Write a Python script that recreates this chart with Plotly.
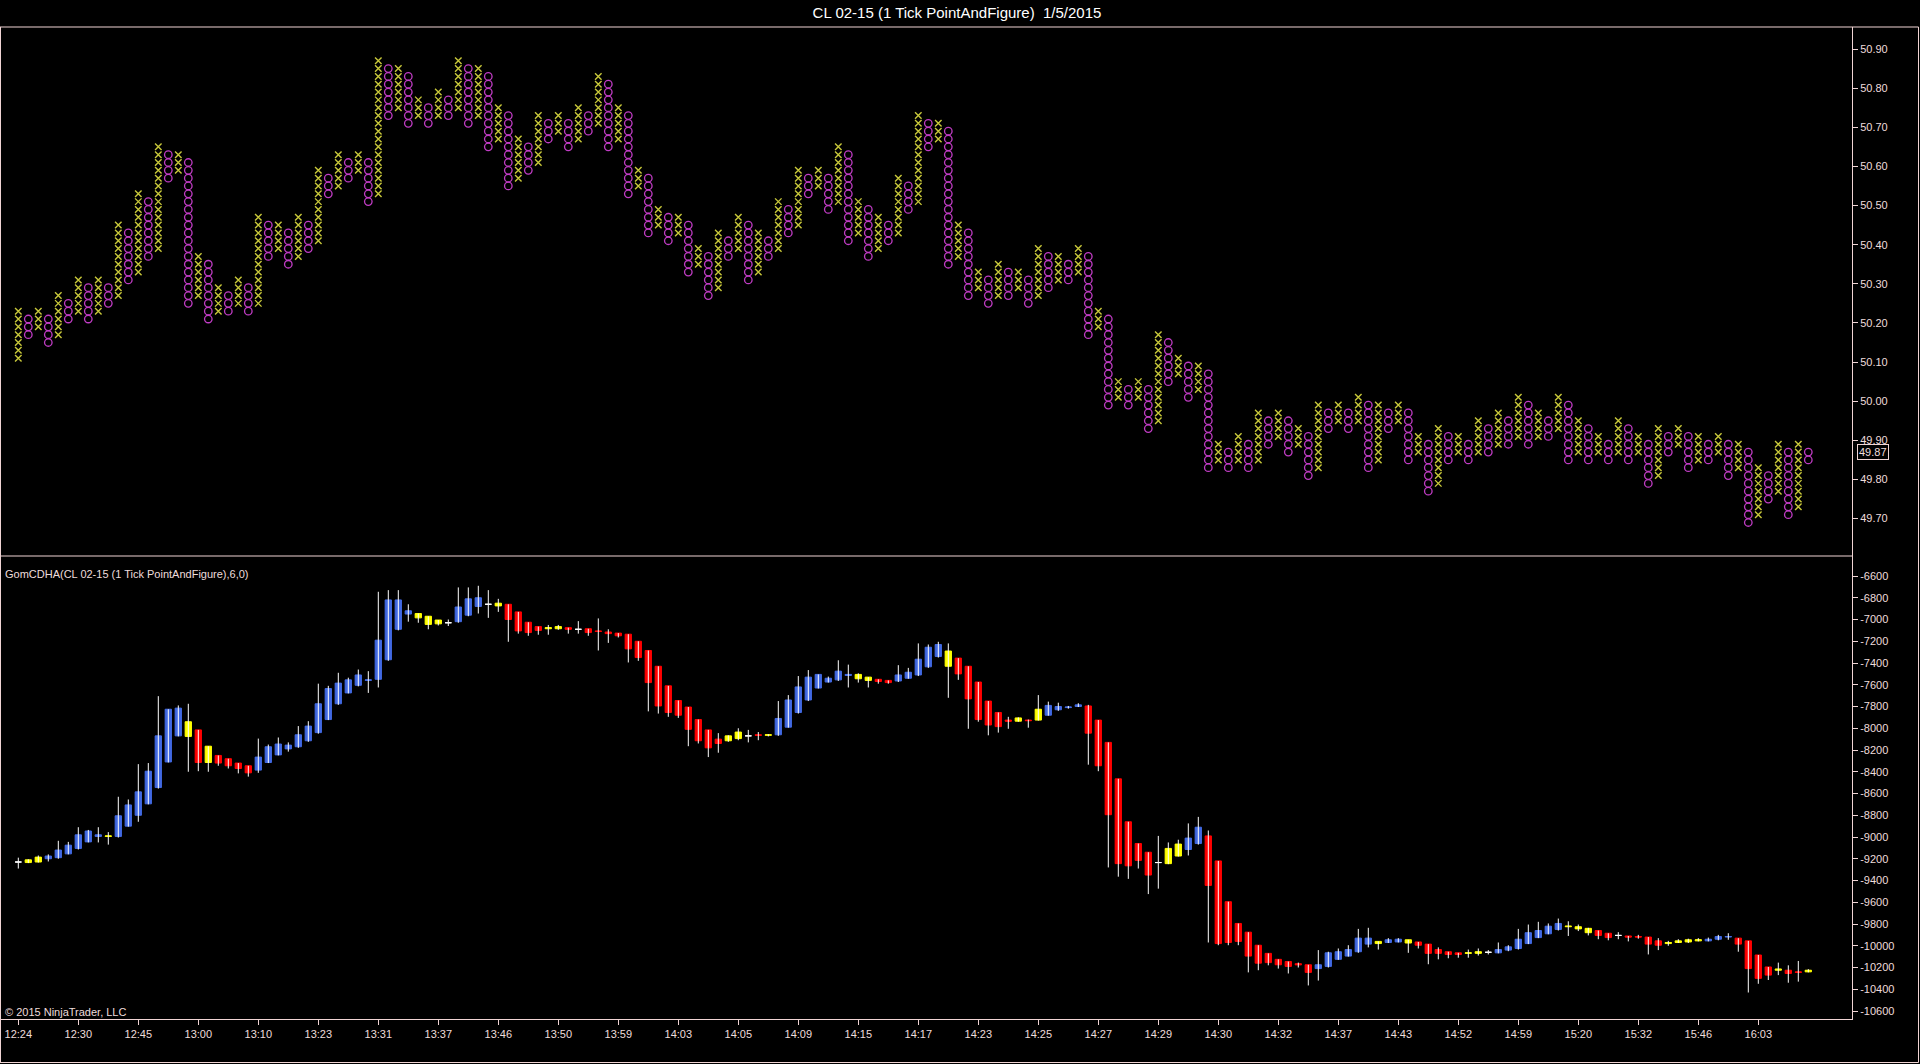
import numpy as np
import plotly.graph_objects as go

# ---- Point & Figure columns (1 tick chart, box = 0.02) ----
BOX = 0.02
FIRST_COLUMN = "X"   # columns alternate X / O from here
col_high = [
    50.23, 50.21, 50.23, 50.21, 50.27, 50.25, 50.31, 50.29, 50.31, 50.29,
    50.45, 50.43, 50.53, 50.51, 50.65, 50.63, 50.63, 50.61, 50.37, 50.35,
    50.29, 50.27, 50.31, 50.29, 50.47, 50.45, 50.45, 50.43, 50.47, 50.45,
    50.59, 50.57, 50.63, 50.61, 50.63, 50.61, 50.87, 50.85, 50.85, 50.83,
    50.77, 50.75, 50.79, 50.77, 50.87, 50.85, 50.85, 50.83, 50.75, 50.73,
    50.67, 50.65, 50.73, 50.71, 50.73, 50.71, 50.75, 50.73, 50.83, 50.81,
    50.75, 50.73, 50.59, 50.57, 50.49, 50.47, 50.47, 50.45, 50.39, 50.37,
    50.43, 50.41, 50.47, 50.45, 50.43, 50.41, 50.51, 50.49, 50.59, 50.57,
    50.59, 50.57, 50.65, 50.63, 50.51, 50.49, 50.47, 50.45, 50.57, 50.55,
    50.73, 50.71, 50.71, 50.69, 50.45, 50.43, 50.33, 50.31, 50.35, 50.33,
    50.33, 50.31, 50.39, 50.37, 50.37, 50.35, 50.39, 50.37, 50.23, 50.21,
    50.05, 50.03, 50.05, 50.03, 50.17, 50.15, 50.11, 50.09, 50.09, 50.07,
    49.89, 49.87, 49.91, 49.89, 49.97, 49.95, 49.97, 49.95, 49.93, 49.91,
    49.99, 49.97, 49.99, 49.97, 50.01, 49.99, 49.99, 49.97, 49.99, 49.97,
    49.91, 49.89, 49.93, 49.91, 49.91, 49.89, 49.95, 49.93, 49.97, 49.95,
    50.01, 49.99, 49.97, 49.95, 50.01, 49.99, 49.95, 49.93, 49.91, 49.89,
    49.95, 49.93, 49.91, 49.89, 49.93, 49.91, 49.93, 49.91, 49.91, 49.89,
    49.91, 49.89, 49.89, 49.87, 49.83, 49.81, 49.89, 49.87, 49.89, 49.87,
]
col_low = [
    50.11, 50.17, 50.19, 50.15, 50.17, 50.21, 50.23, 50.21, 50.23, 50.25,
    50.27, 50.31, 50.33, 50.37, 50.39, 50.57, 50.59, 50.25, 50.27, 50.21,
    50.23, 50.23, 50.25, 50.23, 50.25, 50.37, 50.39, 50.35, 50.37, 50.39,
    50.41, 50.53, 50.55, 50.57, 50.59, 50.51, 50.53, 50.73, 50.75, 50.71,
    50.73, 50.71, 50.73, 50.73, 50.75, 50.71, 50.73, 50.65, 50.67, 50.55,
    50.57, 50.59, 50.61, 50.67, 50.69, 50.65, 50.67, 50.69, 50.71, 50.65,
    50.67, 50.53, 50.55, 50.43, 50.45, 50.41, 50.43, 50.33, 50.35, 50.27,
    50.29, 50.37, 50.39, 50.31, 50.33, 50.37, 50.39, 50.43, 50.45, 50.53,
    50.55, 50.49, 50.51, 50.41, 50.43, 50.37, 50.39, 50.41, 50.43, 50.49,
    50.51, 50.65, 50.67, 50.35, 50.37, 50.27, 50.29, 50.25, 50.27, 50.27,
    50.29, 50.25, 50.27, 50.29, 50.31, 50.31, 50.33, 50.17, 50.19, 49.99,
    50.01, 49.99, 50.01, 49.93, 49.95, 50.05, 50.07, 50.01, 50.03, 49.83,
    49.85, 49.83, 49.85, 49.83, 49.85, 49.89, 49.91, 49.87, 49.89, 49.81,
    49.83, 49.93, 49.95, 49.93, 49.95, 49.83, 49.85, 49.93, 49.95, 49.85,
    49.87, 49.77, 49.79, 49.85, 49.87, 49.85, 49.87, 49.87, 49.89, 49.89,
    49.91, 49.89, 49.91, 49.91, 49.93, 49.85, 49.87, 49.85, 49.87, 49.85,
    49.87, 49.85, 49.87, 49.79, 49.81, 49.87, 49.89, 49.83, 49.85, 49.85,
    49.87, 49.81, 49.83, 49.69, 49.71, 49.75, 49.77, 49.71, 49.73, 49.85,
]
last_price = 49.87

# ---- GomCDHA (cumulative delta heikin-ashi), one candle per column ----
ha_open = [
    -9230, -9235, -9230, -9200, -9190, -9155, -9105, -9045, -8995, -8995,
    -8995, -8900, -8800, -8695, -8545, -8310, -8070, -8075, -8015, -8315,
    -8250, -8280, -8320, -8345, -8385, -8315, -8245, -8190, -8170, -8115,
    -8040, -7920, -7775, -7675, -7605, -7560, -7550, -7370, -7090, -6950,
    -6985, -7045, -7040, -7030, -7020, -6960, -6880, -6860, -6875, -6860,
    -6930, -7025, -7065, -7085, -7085, -7075, -7090, -7085, -7105, -7115,
    -7125, -7135, -7200, -7285, -7430, -7610, -7745, -7805, -7920, -8015,
    -8100, -8115, -8095, -8070, -8060, -8065, -8060, -7990, -7855, -7740,
    -7630, -7575, -7555, -7515, -7545, -7560, -7550, -7560, -7565, -7540,
    -7510, -7435, -7340, -7430, -7355, -7430, -7575, -7750, -7855, -7925,
    -7935, -7925, -7925, -7880, -7830, -7810, -7800, -7795, -7925, -8130,
    -8465, -8860, -9060, -9140, -9235, -9245, -9175, -9115, -9060, -8990,
    -9220, -9595, -9795, -9875, -9995, -10070, -10125, -10145, -10165, -10175,
    -10210, -10190, -10125, -10095, -10055, -9985, -9980, -9970, -9965, -9975,
    -9965, -9985, -10035, -10055, -10065, -10070, -10070, -10060, -10065, -10040,
    -10025, -9980, -9925, -9890, -9850, -9825, -9845, -9880, -9860, -9885,
    -9905, -9910, -9915, -9920, -9955, -9980, -9970, -9965, -9955, -9955,
    -9940, -9920, -9930, -9955, -10085, -10195, -10225, -10225, -10240, -10240,
]
ha_high = [
    -9190, -9205, -9170, -9160, -9035, -9045, -8910, -8935, -8910, -8955,
    -8630, -8655, -8330, -8320, -7705, -7825, -7790, -7775, -8015, -8165,
    -8250, -8280, -8320, -8345, -8095, -8150, -8085, -8130, -7980, -7935,
    -7590, -7610, -7490, -7535, -7460, -7475, -6745, -6730, -6730, -6860,
    -6945, -6970, -7005, -7000, -6705, -6705, -6690, -6730, -6810, -6860,
    -6930, -7025, -7065, -7050, -7050, -7075, -7015, -7085, -6990, -7090,
    -7125, -7135, -7200, -7285, -7430, -7610, -7745, -7805, -7920, -8015,
    -8045, -8065, -8000, -8015, -8035, -8055, -7750, -7695, -7520, -7465,
    -7505, -7525, -7375, -7415, -7495, -7530, -7550, -7560, -7420, -7445,
    -7220, -7230, -7205, -7220, -7355, -7430, -7575, -7750, -7855, -7895,
    -7900, -7920, -7695, -7755, -7765, -7795, -7770, -7785, -7925, -8130,
    -8465, -8860, -9060, -9140, -8990, -9050, -9025, -8875, -8815, -8940,
    -9220, -9595, -9795, -9875, -9995, -10070, -10125, -10145, -10155, -10175,
    -10040, -10055, -10025, -9995, -9845, -9835, -9960, -9930, -9930, -9945,
    -9965, -9985, -10015, -10055, -10065, -10035, -10025, -10040, -9970, -9995,
    -9845, -9805, -9780, -9795, -9750, -9775, -9805, -9835, -9860, -9885,
    -9875, -9910, -9900, -9920, -9930, -9955, -9940, -9935, -9930, -9925,
    -9900, -9885, -9930, -9955, -10085, -10195, -10155, -10180, -10140, -10215,
]
ha_low = [
    -9290, -9240, -9235, -9225, -9200, -9160, -9115, -9050, -9050, -9070,
    -9005, -8905, -8860, -8700, -8555, -8315, -8075, -8400, -8395, -8400,
    -8345, -8370, -8415, -8445, -8410, -8320, -8250, -8215, -8180, -8125,
    -8050, -7925, -7785, -7680, -7615, -7675, -7625, -7380, -7100, -7020,
    -7030, -7090, -7055, -7060, -7030, -6970, -6945, -6985, -6930, -7205,
    -7130, -7150, -7140, -7140, -7095, -7130, -7130, -7150, -7285, -7215,
    -7165, -7395, -7380, -7845, -7865, -7895, -7905, -8165, -8140, -8265,
    -8225, -8125, -8110, -8130, -8110, -8075, -8070, -7995, -7865, -7750,
    -7635, -7580, -7565, -7625, -7580, -7625, -7590, -7590, -7575, -7545,
    -7520, -7445, -7350, -7720, -7555, -8005, -7940, -8065, -8040, -8005,
    -7940, -7995, -7930, -7885, -7840, -7820, -7805, -8335, -8395, -9280,
    -9365, -9385, -9290, -9525, -9475, -9250, -9180, -9170, -9070, -9970,
    -9995, -9995, -9995, -10245, -10225, -10180, -10210, -10255, -10200, -10365,
    -10320, -10200, -10130, -10100, -10065, -10015, -10035, -9975, -9970, -10065,
    -10025, -10170, -10125, -10115, -10110, -10110, -10090, -10080, -10070, -10050,
    -10035, -9985, -9930, -9895, -9860, -9910, -9865, -9905, -9940, -9950,
    -9940, -9960, -9935, -10080, -10040, -10000, -9975, -9975, -9960, -9960,
    -9950, -9945, -10055, -10430, -10350, -10315, -10270, -10340, -10330, -10245,
]
ha_close = [
    -9230, -9210, -9185, -9175, -9120, -9075, -8980, -8945, -8980, -8990,
    -8805, -8705, -8585, -8395, -8070, -7825, -7815, -7940, -8315, -8165,
    -8320, -8345, -8370, -8410, -8265, -8170, -8145, -8155, -8060, -7980,
    -7775, -7635, -7585, -7555, -7510, -7555, -7190, -6820, -6820, -6920,
    -6945, -6970, -7005, -7030, -6885, -6810, -6800, -6860, -6850, -7000,
    -7105, -7120, -7100, -7075, -7065, -7090, -7090, -7120, -7110, -7130,
    -7150, -7270, -7350, -7580, -7795, -7855, -7880, -8010, -8115, -8180,
    -8140, -8070, -8035, -8070, -8065, -8060, -7910, -7740, -7620, -7530,
    -7505, -7540, -7475, -7505, -7505, -7530, -7570, -7580, -7510, -7485,
    -7365, -7255, -7230, -7290, -7500, -7730, -7920, -7970, -7985, -7935,
    -7905, -7930, -7825, -7790, -7800, -7805, -7785, -8045, -8345, -8795,
    -9245, -9265, -9215, -9350, -9235, -9105, -9065, -9010, -8910, -9445,
    -9980, -9970, -9960, -10095, -10160, -10155, -10175, -10190, -10175, -10245,
    -10175, -10065, -10055, -10035, -9930, -9930, -9960, -9945, -9940, -9945,
    -9995, -10070, -10070, -10080, -10080, -10065, -10055, -10060, -10035, -10010,
    -9940, -9880, -9860, -9820, -9795, -9820, -9825, -9840, -9905, -9925,
    -9905, -9920, -9920, -9985, -9995, -9970, -9955, -9945, -9945, -9940,
    -9915, -9915, -9985, -10210, -10300, -10270, -10215, -10255, -10245, -10225,
]
# U = rising (blue), D = falling (red), N = neutral (yellow), W = no body
ha_state = (
    "WNNUUUUUUN" "UUUUUUUNDN" "DDDDUUUUUU" "UUUUUUUUUU" "NNNWUUUWND"
    "DDDNNDWDDD" "DDDDDDDDDD" "DNNWDNUUUU" "UUUUNNDDUU" "UUUNDDDDDD"
    "NDNUUUUDDD" "DDDDWNNUUD" "DDDDDDDDDD" "UUUUUUNUUN" "DDDDDNNWUU"
    "UUUUUNNNDD" "WDDDDNNNNU" "UUDDDDNDDN"
)

time_labels = ["12:24", "12:30", "12:45", "13:00", "13:10", "13:23", "13:31", "13:37",
               "13:46", "13:50", "13:59", "14:03", "14:05", "14:09", "14:15", "14:17",
               "14:23", "14:25", "14:27", "14:29", "14:30", "14:32", "14:37", "14:43",
               "14:52", "14:59", "15:20", "15:32", "15:46", "16:03"]
LABEL_EVERY = 6
price_ticks = [49.70, 49.80, 49.90, 50.00, 50.10, 50.20, 50.30, 50.40, 50.50, 50.60,
               50.70, 50.80, 50.90]
delta_ticks = list(range(-10600, -6599, 200))

n = len(col_high)
assert len(col_low) == n and len(ha_open) == n and len(ha_high) == n
assert len(ha_low) == n and len(ha_close) == n and len(ha_state) == n

# ---- page geometry (pixels) ----
W_PX, H_PX = 1920, 1064
L, R, T, B = 1, 68, 27, 45
PW = W_PX - L - R
PH = H_PX - T - B
SPLIT = 556          # row where the two panels meet
COL_PX = 10          # distance between columns
FIRST_PX = 18.3      # centre of the first column


def px(x):
    return (x - L) / PW


def py(y):
    return (H_PX - B - y) / PH


FRAME = "#f0d4d4"
TXT = "#eedcdc"
X_COL = "#c8c83a"
O_COL = "#c03cc4"
STATE_COL = {"U": "#4169e1", "D": "#ff0000", "N": "#ffff00", "W": "#ffffff"}

fig = go.Figure()

# P&F marks
xs_x, xs_y, os_x, os_y = [], [], [], []
other = "O" if FIRST_COLUMN == "X" else "X"
for i, (hi, lo) in enumerate(zip(col_high, col_low)):
    k = int(round((hi - lo) / BOX)) + 1
    boxes = list(lo + BOX * np.arange(k))
    kind = FIRST_COLUMN if i % 2 == 0 else other
    if kind == "X":
        xs_x += [i] * k
        xs_y += boxes
    else:
        os_x += [i] * k
        os_y += boxes

fig.add_trace(go.Scatter(
    x=xs_x, y=xs_y, mode="markers", xaxis="x2", yaxis="y2", hoverinfo="skip",
    marker=dict(symbol="x-thin-open", size=6.5, color=X_COL,
                line=dict(color=X_COL, width=1.4))))
fig.add_trace(go.Scatter(
    x=os_x, y=os_y, mode="markers", xaxis="x2", yaxis="y2", hoverinfo="skip",
    marker=dict(symbol="circle-open", size=7.5, color=O_COL,
                line=dict(color=O_COL, width=1.3))))

# candle wicks
wx, wy = [], []
for i in range(n):
    wx += [i, i, None]
    wy += [ha_low[i], ha_high[i], None]
fig.add_trace(go.Scatter(x=wx, y=wy, mode="lines", xaxis="x", yaxis="y",
                         line=dict(color="white", width=1), hoverinfo="skip"))

# candle bodies, one trace per colour
for st, colr in STATE_COL.items():
    idx = [i for i in range(n) if ha_state[i] == st]
    o = [ha_open[i] for i in idx]
    c = [ha_close[i] for i in idx]
    fig.add_trace(go.Candlestick(
        x=idx, open=o, close=c,
        high=[max(a, b) for a, b in zip(o, c)],
        low=[min(a, b) for a, b in zip(o, c)],
        xaxis="x", yaxis="y", whiskerwidth=0, hoverinfo="skip",
        increasing=dict(line=dict(color=colr, width=1), fillcolor=colr),
        decreasing=dict(line=dict(color=colr, width=1), fillcolor=colr)))

x_lo = -(FIRST_PX - L) / COL_PX
x_hi = x_lo + PW / COL_PX

p_top = 50.90 + (49 - T) / 391.3
p_bot = 49.70 - (SPLIT - 518.6) / 391.3
d_top = -6600 + (576 - SPLIT) / 0.10875
d_bot = -6600 - (H_PX - B - 576) / 0.10875

axis_common = dict(showgrid=False, zeroline=False, color=TXT,
                   tickfont=dict(size=11, color=TXT))

fig.update_layout(
    width=W_PX, height=H_PX,
    margin=dict(l=L, r=R, t=T, b=B, pad=0),
    paper_bgcolor="black", plot_bgcolor="black",
    showlegend=False,
    boxgap=0.3, boxgroupgap=0.1,
    font=dict(family="Liberation Sans, Arial, sans-serif", size=11, color=TXT),
    title=dict(text="CL 02-15 (1 Tick PointAndFigure) \u00a01/5/2015",
               x=957 / W_PX, xref="container", xanchor="center",
               y=1 - 13 / H_PX, yref="container", yanchor="middle",
               font=dict(size=15, color="white")),
    xaxis=dict(domain=[0, 1], anchor="y", range=[x_lo, x_hi],
               tickvals=[k * LABEL_EVERY for k in range(len(time_labels))],
               ticktext=time_labels, ticks="outside", ticklen=5, tickcolor=FRAME,
               showline=True, linecolor=FRAME, linewidth=1,
               rangeslider=dict(visible=False), **axis_common),
    xaxis2=dict(domain=[0, 1], anchor="y2", matches="x", showticklabels=False,
                showline=False, ticks="", showgrid=False, zeroline=False),
    yaxis=dict(domain=[0, py(SPLIT)], anchor="x", side="right", range=[d_bot, d_top],
               tickvals=delta_ticks, ticktext=[str(v) for v in delta_ticks],
               ticks="outside", ticklen=5, tickcolor=FRAME,
               showline=True, linecolor=FRAME, linewidth=1, **axis_common),
    yaxis2=dict(domain=[py(SPLIT), 1], anchor="x2", side="right", range=[p_bot, p_top],
                tickvals=price_ticks, ticktext=["%.2f" % v for v in price_ticks],
                ticks="outside", ticklen=5, tickcolor=FRAME,
                showline=True, linecolor=FRAME, linewidth=1, **axis_common),
)

# frame lines
frame = [
    (px(0), py(T), px(1918.5), py(T)),
    (px(1918.5), py(T), px(1918.5), py(1062.5)),
    (px(0), py(1062.5), px(1918.5), py(1062.5)),
    (px(0.5), py(T), px(0.5), py(1062.5)),
    (px(0.5), py(SPLIT), px(1852), py(SPLIT)),
]
for x0, y0, x1, y1 in frame:
    fig.add_shape(type="line", xref="paper", yref="paper", x0=x0, y0=y0, x1=x1, y1=y1,
                  line=dict(color=FRAME, width=1))

fig.add_annotation(text="GomCDHA(CL 02-15 (1 Tick PointAndFigure),6,0)",
                   xref="paper", yref="paper", x=px(3), y=py(574),
                   xanchor="left", yanchor="middle", showarrow=False,
                   font=dict(size=11, color=TXT))
fig.add_annotation(text="\u00a9 2015 NinjaTrader, LLC",
                   xref="paper", yref="paper", x=px(3), y=py(1012),
                   xanchor="left", yanchor="middle", showarrow=False,
                   font=dict(size=11, color=TXT))
fig.add_annotation(text="%.2f" % last_price, xref="paper", yref="y2",
                   x=px(1857), y=last_price, xanchor="left", yanchor="middle",
                   showarrow=False, bgcolor="black", bordercolor=FRAME,
                   borderwidth=1, borderpad=1, font=dict(size=11, color=TXT))

fig.write_html("out.html",
               config={"displayModeBar": False},
               post_script="document.body.style.margin='0';"
                           "document.body.style.background='#000';"
                           "document.body.style.overflow='hidden';")
